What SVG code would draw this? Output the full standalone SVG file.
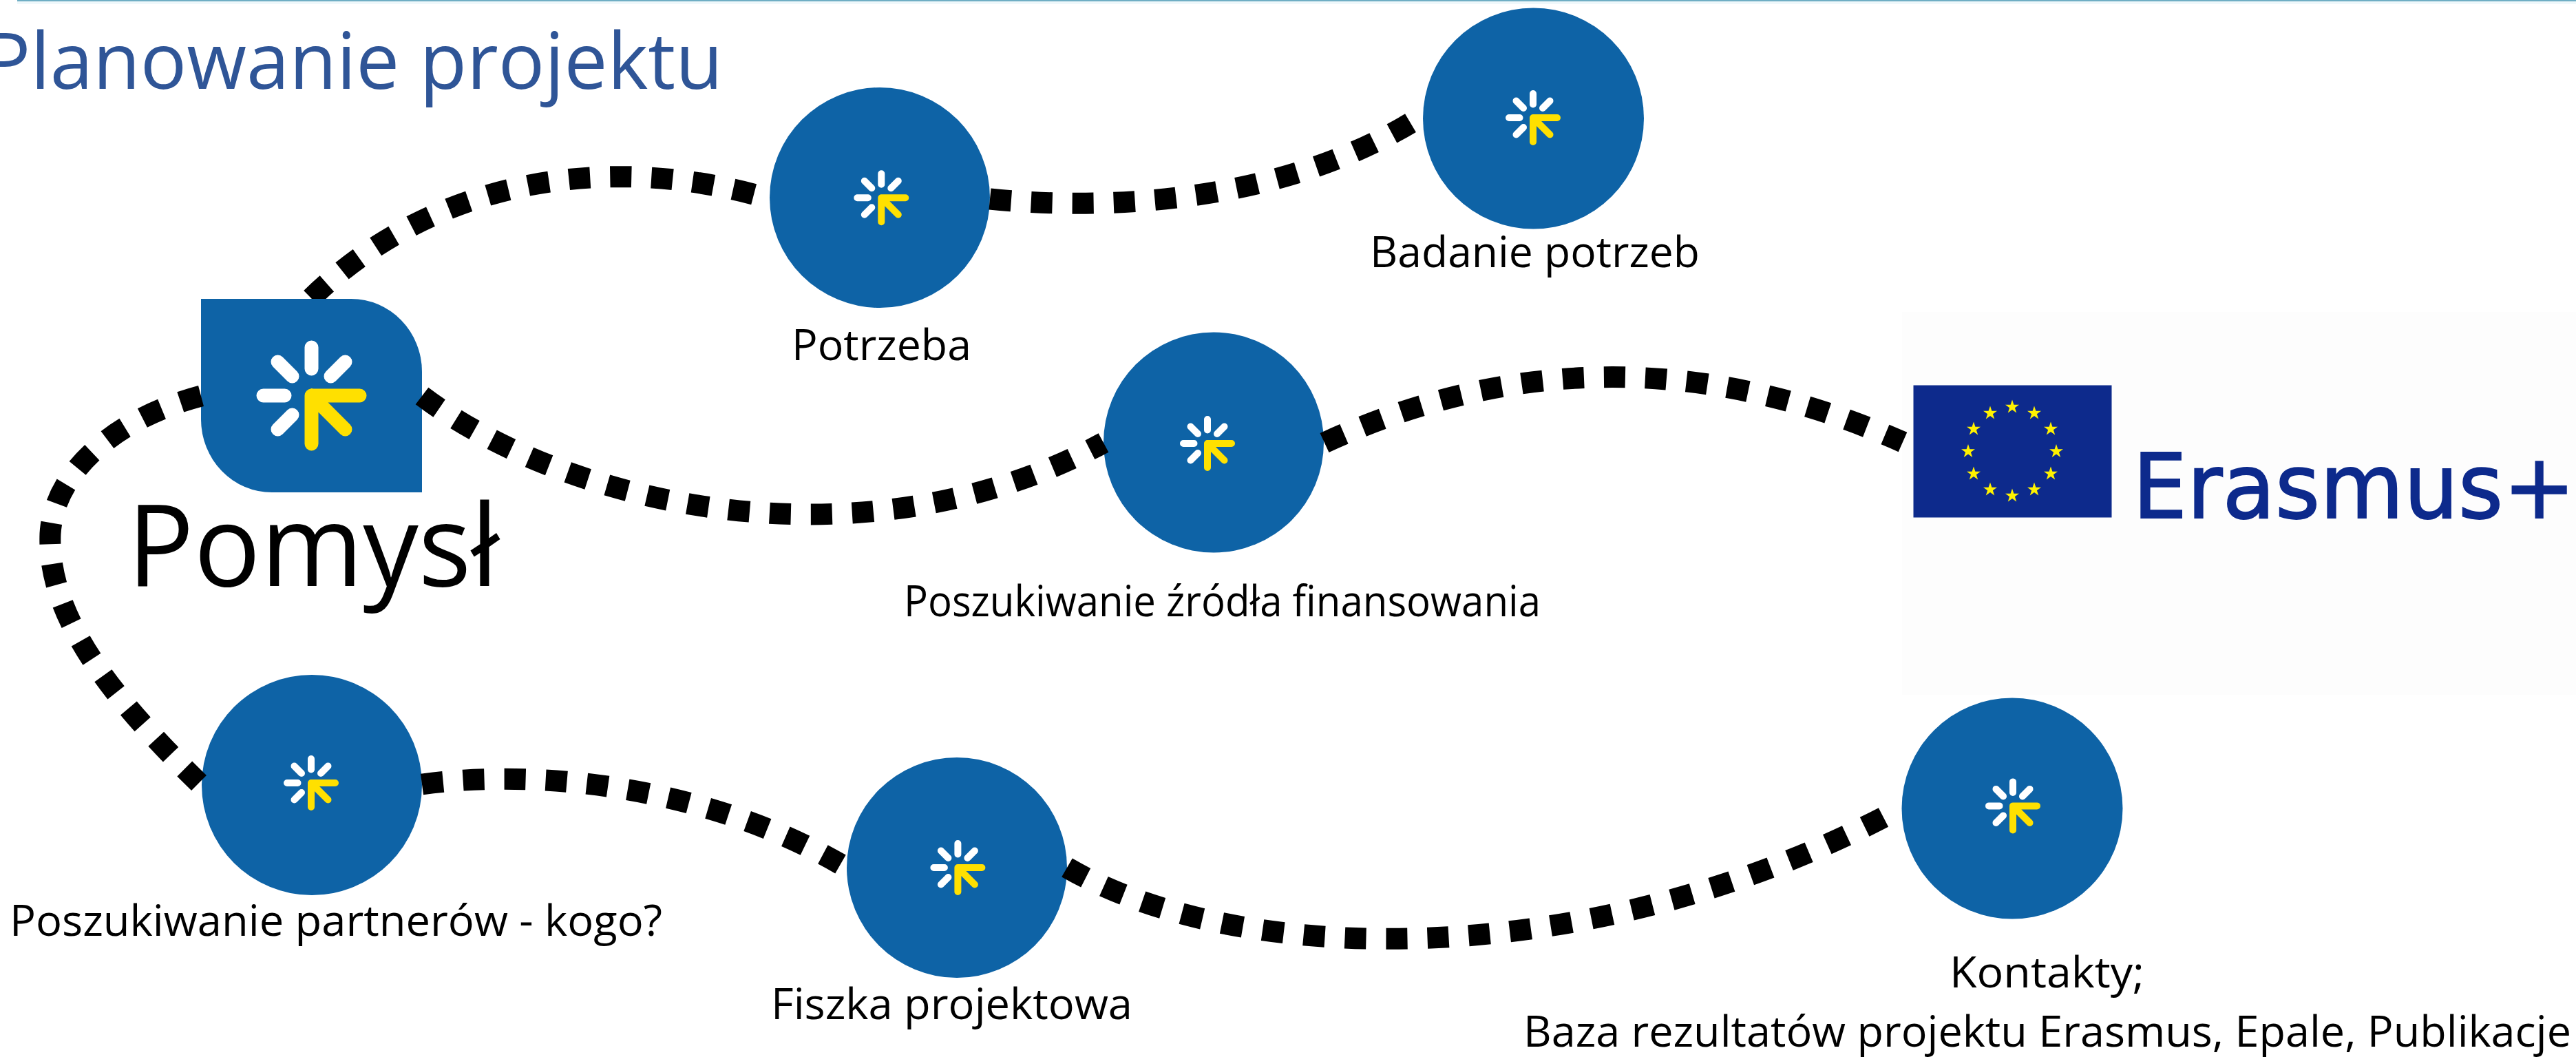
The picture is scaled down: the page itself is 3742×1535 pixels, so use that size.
<svg xmlns="http://www.w3.org/2000/svg" xmlns:xlink="http://www.w3.org/1999/xlink" width="3742" height="1535" viewBox="0 0 3742 1535">
<style>
.conn{fill:none;stroke:#000;stroke-width:31;stroke-dasharray:31 29}
.disc{fill:#0E63A6}
.lab{font-family:"Open Sans","Noto Sans","Liberation Sans",sans-serif;font-size:63px;fill:#000}
.w{fill:none;stroke:#fff;stroke-width:20;stroke-linecap:round}
.y{fill:none;stroke:#FFE000;stroke-width:20;stroke-linecap:round;stroke-linejoin:round}
.star{fill:#FFF200}
</style>
<defs>
<g id="spark">
<path class="w" d="M0,-70V-39M-70,0H-39M-49,-49L-28,-28M49,-49L28,-28M-49,49L-28,28"/>
<path class="y" d="M70,0H0V70M0,0L49,49"/>
</g>
<polygon id="st" points="0,-10.5 2.4,-3.2 10,-3.2 3.9,1.2 6.2,8.5 0,4 -6.2,8.5 -3.9,1.2 -10,-3.2 -2.4,-3.2"/>
<clipPath id="aboveTile"><rect x="0" y="0" width="3742" height="434"/></clipPath>
</defs>
<rect width="3742" height="1535" fill="#fff"/>
<rect x="2763" y="453" width="979" height="556" fill="#FDFDFD"/>
<rect x="25" y="0" width="3717" height="2" fill="#6FAEC4"/>
<rect x="25" y="2" width="3717" height="4" fill="#EFF8FB"/>
<text x="-23" y="129" textLength="1073" lengthAdjust="spacingAndGlyphs" font-family="'Open Sans','Noto Sans',sans-serif" font-size="113" fill="#2F5597">Planowanie projektu</text>

<g id="pomysl">
<path class="disc" d="M292,434H510A103,106 0 0 1 613,540V715H395A103,106 0 0 1 292,609Z"/>
<use href="#spark" transform="translate(452.5,574.5)"/>
<text x="185" y="851" textLength="540" lengthAdjust="spacingAndGlyphs" font-family="'Open Sans','Noto Sans',sans-serif" font-size="165" fill="#000">Pomysł</text>
</g>
<g id="potrzeba">
<circle class="disc" cx="1278" cy="287" r="160"/>
<use href="#spark" transform="translate(1280.3,287.3) scale(.5)"/>
<text class="lab" x="1150" y="523" textLength="261" lengthAdjust="spacingAndGlyphs">Potrzeba</text>
</g>
<g id="badanie">
<circle class="disc" cx="2227.5" cy="172" r="160.5"/>
<use href="#spark" transform="translate(2227,171) scale(.5)"/>
<text class="lab" x="1990" y="388" textLength="479" lengthAdjust="spacingAndGlyphs">Badanie potrzeb</text>
</g>
<g id="zrodla">
<circle class="disc" cx="1763" cy="642.5" r="160"/>
<use href="#spark" transform="translate(1754,644) scale(.5)"/>
<text class="lab" x="1313" y="895" textLength="925" lengthAdjust="spacingAndGlyphs">Poszukiwanie źródła finansowania</text>
</g>
<g id="partnerzy">
<circle class="disc" cx="453" cy="1140" r="160"/>
<use href="#spark" transform="translate(452,1137) scale(.5)"/>
<text class="lab" x="14" y="1359" textLength="948" lengthAdjust="spacingAndGlyphs">Poszukiwanie partnerów - kogo?</text>
</g>
<g id="fiszka">
<circle class="disc" cx="1390" cy="1260" r="160"/>
<use href="#spark" transform="translate(1391.4,1260) scale(.5)"/>
<text class="lab" x="1120" y="1480" textLength="525" lengthAdjust="spacingAndGlyphs">Fiszka projektowa</text>
</g>
<g id="kontakty">
<circle class="disc" cx="2923" cy="1174" r="160.5"/>
<use href="#spark" transform="translate(2924,1170.4) scale(.5)"/>
<text class="lab" x="2832" y="1434" textLength="283" lengthAdjust="spacingAndGlyphs">Kontakty;</text>
<text class="lab" x="2213" y="1520" textLength="1522" lengthAdjust="spacingAndGlyphs">Baza rezultatów projektu Erasmus, Epale, Publikacje</text>
</g>
<g id="erasmus">
<rect x="2779.5" y="559.5" width="288" height="192" fill="#0D2A8C"/>
<g class="star">
<use href="#st" x="2923" y="591"/><use href="#st" x="2955" y="600"/><use href="#st" x="2979" y="623"/><use href="#st" x="2987" y="655.5"/><use href="#st" x="2979" y="688"/><use href="#st" x="2955" y="711"/><use href="#st" x="2923" y="720"/><use href="#st" x="2891" y="711"/><use href="#st" x="2867" y="688"/><use href="#st" x="2859" y="655.5"/><use href="#st" x="2867" y="623"/><use href="#st" x="2891" y="600"/>
</g>
<text x="3098" y="751.6" textLength="643" lengthAdjust="spacingAndGlyphs" font-family="'DejaVu Sans',sans-serif" font-size="130" fill="#0D2A8C" stroke="#0D2A8C" stroke-width="2">Erasmus+</text>
</g>

<g id="connectors">
<path class="conn" clip-path="url(#aboveTile)" d="M452,433C620,270 860,220 1098,283"/>
<path class="conn" d="M1438,289C1600,305 1850,298 2050,178"/>
<path class="conn" d="M613,575C820,732 1250,834 1603,643"/>
<path class="conn" d="M1924,643C2200,516 2480,516 2764,642"/>
<path class="conn" d="M292,575C160,610 78,690 73,775C68,900 170,1020 289,1137"/>
<path class="conn" d="M613,1139C790,1115 1030,1145 1221,1255"/>
<path class="conn" d="M1550,1260C1800,1405 2300,1412 2736,1187"/>
</g>
</svg>
